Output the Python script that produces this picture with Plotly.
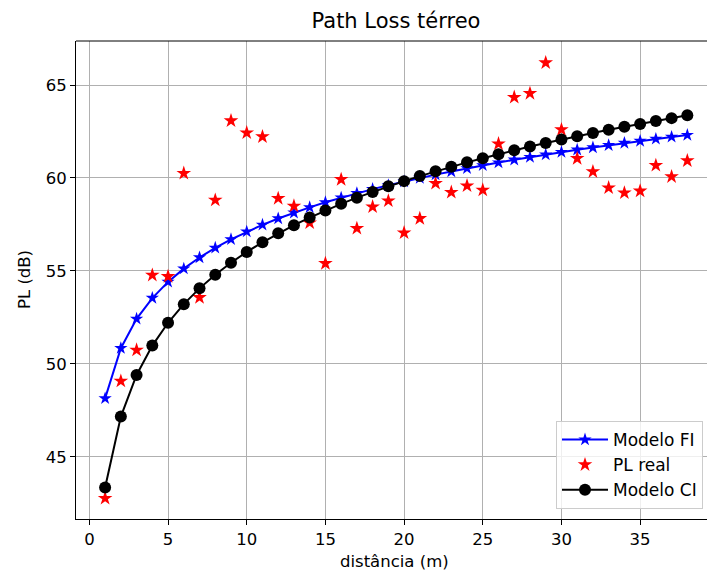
import plotly.graph_objects as go

distancia = list(range(1, 39))

pl_real = [42.76, 49.07, 50.74, 54.77, 54.70, 60.25, 53.57, 58.81, 63.08, 62.43,
           62.22, 58.90, 58.49, 57.59, 55.40, 59.92, 57.29, 58.45, 58.77, 57.05,
           57.82, 59.71, 59.23, 59.58, 59.35, 61.84, 64.34, 64.55, 66.20, 62.60,
           61.05, 60.34, 59.47, 59.20, 59.30, 60.68, 60.07, 60.93]

modelo_fi = [48.14, 50.84, 52.42, 53.54, 54.41, 55.12, 55.72, 56.24, 56.70, 57.11,
             57.48, 57.82, 58.13, 58.42, 58.69, 58.94, 59.18, 59.40, 59.61, 59.81,
             60.00, 60.18, 60.35, 60.52, 60.68, 60.83, 60.98, 61.12, 61.26, 61.39,
             61.52, 61.64, 61.76, 61.88, 61.99, 62.10, 62.21, 62.31]

modelo_ci = [43.35, 47.16, 49.40, 50.98, 52.21, 53.21, 54.06, 54.79, 55.44, 56.02,
             56.54, 57.02, 57.46, 57.87, 58.25, 58.61, 58.94, 59.25, 59.55, 59.83,
             60.10, 60.36, 60.60, 60.84, 61.06, 61.28, 61.49, 61.69, 61.88, 62.07,
             62.25, 62.42, 62.59, 62.75, 62.91, 63.07, 63.22, 63.37]

x_ticks = [0, 5, 10, 15, 20, 25, 30, 35]
y_ticks = [45, 50, 55, 60, 65]

FONT = "DejaVu Sans"
FS = 16.5

fig = go.Figure()
fig.add_trace(go.Scatter(
    x=distancia, y=modelo_fi, mode="lines+markers", name="Modelo FI",
    line=dict(color="blue", width=2),
    marker=dict(symbol="star", size=10, color="blue"),
))
fig.add_trace(go.Scatter(
    x=distancia, y=pl_real, mode="markers", name="PL real",
    marker=dict(symbol="star", size=11, color="red"),
))
fig.add_trace(go.Scatter(
    x=distancia, y=modelo_ci, mode="lines+markers", name="Modelo CI",
    line=dict(color="black", width=2),
    marker=dict(symbol="circle", size=12, color="black"),
))

axis_common = dict(
    showgrid=True, gridcolor="#b0b0b0", gridwidth=1,
    zeroline=False, showline=True, linecolor="black", linewidth=1,
    ticks="outside", ticklen=5, tickwidth=1, tickcolor="black",
    tickfont=dict(family=FONT, size=FS, color="black"),
)

fig.update_layout(
    width=707, height=575,
    margin=dict(l=76, r=0, t=41, b=56),
    paper_bgcolor="white", plot_bgcolor="white",
    font=dict(family=FONT, size=FS, color="black"),
    title=dict(text="Path Loss térreo", x=396 / 707, xref="container", xanchor="center",
               y=1 - 21 / 575, yref="container", yanchor="middle",
               font=dict(family=FONT, size=21, color="black")),
    xaxis=dict(range=[-0.85, 39.25], tickvals=x_ticks, **axis_common),
    yaxis=dict(range=[41.65, 67.37], tickvals=y_ticks, **axis_common),
    legend=dict(x=(703 - 76) / 631, xanchor="right", y=(519 - 509) / 478, yanchor="bottom",
                bgcolor="rgba(255,255,255,0.8)", bordercolor="#cccccc", borderwidth=1,
                font=dict(family=FONT, size=17, color="black"),
                itemwidth=46),
    showlegend=True,
    annotations=[
        dict(text="distância (m)", xref="paper", yref="paper",
             x=(395 - 76) / 631, y=(519 - 561) / 478, xanchor="center", yanchor="middle",
             showarrow=False, font=dict(family=FONT, size=FS, color="black")),
        dict(text="PL (dB)", xref="paper", yref="paper", textangle=-90,
             x=(24 - 76) / 631, y=0.5, xanchor="center", yanchor="middle",
             showarrow=False, font=dict(family=FONT, size=FS, color="black")),
    ],
)

# top spine (right spine is outside the visible window in the reference)
fig.add_shape(type="line", xref="paper", yref="paper", x0=0, x1=1, y0=1, y1=1,
              line=dict(color="black", width=1))

fig.write_html("out.html", config={"displayModeBar": False},
               post_script="document.body.style.margin='0';document.body.style.overflow='hidden';")
